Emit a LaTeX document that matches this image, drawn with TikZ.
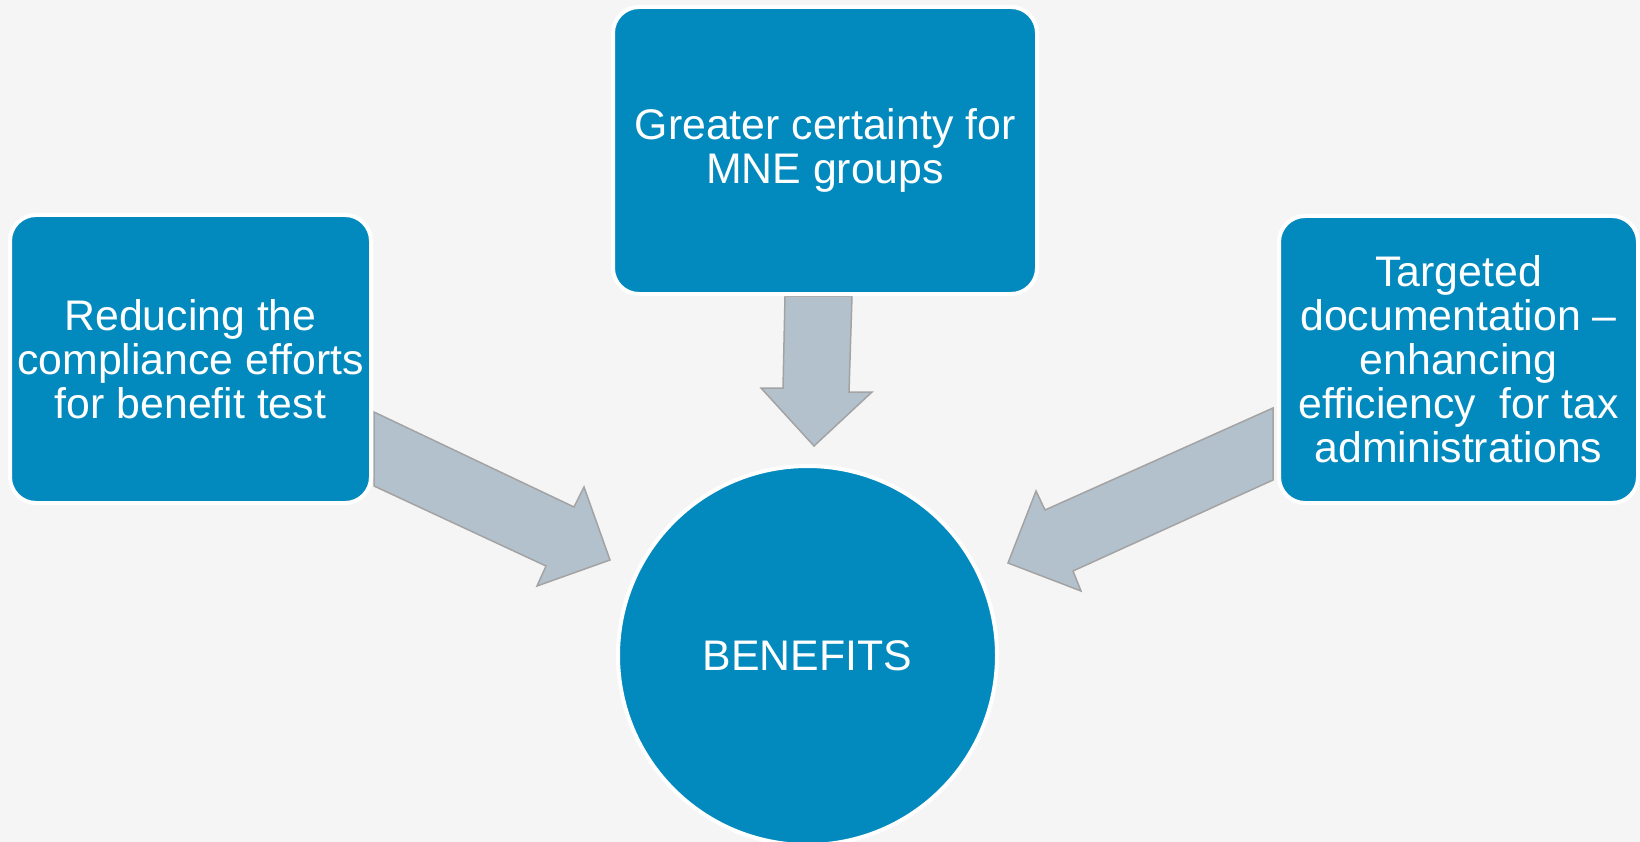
\documentclass[tikz,border=0pt]{standalone}
\usepackage{fontspec}
\setmainfont{Liberation Sans}
\definecolor{bg}{HTML}{F5F5F5}
\definecolor{boxblue}{RGB}{2,138,190}
\definecolor{arrfill}{HTML}{B3C1CC}
\definecolor{arrline}{HTML}{A3A3A3}
\begin{document}
\begin{tikzpicture}[x=1pt,y=-1pt,
  box/.style={rectangle, rounded corners=26pt, fill=boxblue, draw=white, line width=4pt,
    text=white, align=center, inner sep=0pt, font=\fontsize{42.8}{44}\selectfont},
  hub/.style={circle, fill=boxblue, draw=white, line width=4pt, text=white,
    inner sep=0pt, minimum size=379pt, font=\fontsize{42.8}{44}\selectfont},
  blockarrow/.style={fill=arrfill, draw=arrline, line width=1.5pt, line join=miter}]
\fill[bg] (0,0) rectangle (1640,842);
\useasboundingbox (0,0) rectangle (1640,842);
% block arrows
\draw[blockarrow] (374,412) -- (574,507) -- (584,487) -- (610,560) -- (537,586) -- (546,566) -- (374,486) -- cycle;
\draw[blockarrow] (785,296) -- (783,388) -- (761,388) -- (814,446) -- (872,392) -- (849,392) -- (852,296) -- cycle;
\draw[blockarrow] (1273,408) -- (1045,510) -- (1036,491) -- (1008,563) -- (1081,591) -- (1073,571) -- (1273,480) -- cycle;
% nodes
\node[box, minimum width=361pt, minimum height=288pt] (left) at (190.5,359)
  {Reducing the\\compliance efforts\\for benefit test};
\node[box, minimum width=424pt, minimum height=287pt] (top) at (825,150.5)
  {Greater certainty for\\MNE groups};
\node[box, minimum width=359pt, minimum height=287pt] (right) at (1458.5,359.5)
  {Targeted\\documentation –\\enhancing\\efficiency\ \ for tax\\administrations};
\node[hub] (hub) at (807.5,655.5) {BENEFITS};
\end{tikzpicture}
\end{document}
